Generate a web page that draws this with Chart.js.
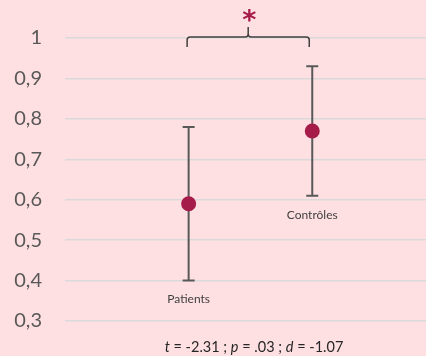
<!DOCTYPE html>
<html>
<head>
<meta charset="utf-8">
<script src="https://cdn.jsdelivr.net/npm/chart.js@4"></script>
<style>
  body { margin: 0; background: #ffe0e2; }
</style>
</head>
<body>
<canvas id="graph" width="426" height="356"></canvas>
<script>
// data
var groups = ['Patients', 'Contrôles']
var groupPos = [1, 2]
var means = [0.59, 0.77]
var lower = [0.40, 0.61]
var upper = [0.78, 0.93]
var yTicks = [0.3, 0.4, 0.5, 0.6, 0.7, 0.8, 0.9, 1]
var stats = [['t', true], [' = -2.31 ; ', false], ['p', true], [' = .03 ; ', false], ['d', true], [' = -1.07', false]]

var pink = '#ffe0e2'
var crimson = '#a51b4a'

var points = []
for (var i = 0; i < groups.length; i++) {
  points.push({ x: groupPos[i], y: means[i] })
}

var deco = {
  id: 'deco',
  beforeDraw: function (chart) {
    var c = chart.ctx
    c.save()
    c.fillStyle = pink
    c.fillRect(0, 0, chart.width, chart.height)
    c.restore()
  },
  beforeDatasetsDraw: function (chart) {
    var c = chart.ctx
    var xs = chart.scales.x, ys = chart.scales.y
    c.save()
    c.strokeStyle = '#595959'
    c.lineWidth = 2
    for (var i = 0; i < groups.length; i++) {
      var x = xs.getPixelForValue(groupPos[i])
      var yl = ys.getPixelForValue(lower[i])
      var yu = ys.getPixelForValue(upper[i])
      c.beginPath()
      c.moveTo(x, yl); c.lineTo(x, yu)
      c.moveTo(x - 6, yl); c.lineTo(x + 6, yl)
      c.moveTo(x - 6, yu); c.lineTo(x + 6, yu)
      c.stroke()
      // group label under the lower cap
      c.fillStyle = '#404040'
      c.font = '12px Lato'
      c.textAlign = 'center'
      c.textBaseline = 'middle'
      c.fillText(groups[i], x, yl + 19)
    }
    c.restore()
  },
  afterDraw: function (chart) {
    var c = chart.ctx
    var xs = chart.scales.x, ys = chart.scales.y
    var x1 = xs.getPixelForValue(groupPos[0]) - 1.5
    var x2 = xs.getPixelForValue(groupPos[1]) - 3
    var xm = (x1 + x2) / 2
    var yb = ys.getPixelForValue(1) - 1
    c.save()
    // bracket
    c.strokeStyle = '#404040'
    c.lineWidth = 1.5
    c.beginPath()
    c.moveTo(x1, yb + 10)
    c.lineTo(x1, yb + 3)
    c.quadraticCurveTo(x1, yb, x1 + 3, yb)
    c.lineTo(xm - 3, yb)
    c.quadraticCurveTo(xm, yb, xm, yb - 3)
    c.lineTo(xm, yb - 10)
    c.moveTo(xm, yb - 3)
    c.quadraticCurveTo(xm, yb, xm + 3, yb)
    c.lineTo(x2 - 3, yb)
    c.quadraticCurveTo(x2, yb, x2, yb + 3)
    c.lineTo(x2, yb + 10)
    c.stroke()
    // asterisk
    c.fillStyle = crimson
    c.font = 'bold 27px "DejaVu Sans"'
    c.textAlign = 'center'
    c.textBaseline = 'alphabetic'
    var m = c.measureText('*')
    var mid = (m.actualBoundingBoxAscent - m.actualBoundingBoxDescent) / 2
    c.fillText('*', xm + 1, 15 + mid)
    // stats line
    c.fillStyle = '#262626'
    c.textAlign = 'left'
    var total = 0
    for (var k = 0; k < stats.length; k++) {
      c.font = (stats[k][1] ? 'italic ' : '') + '14.5px Lato'
      total += c.measureText(stats[k][0]).width
    }
    var sx = 254 - total / 2
    for (var k = 0; k < stats.length; k++) {
      c.font = (stats[k][1] ? 'italic ' : '') + '14.5px Lato'
      c.fillText(stats[k][0], sx, 352)
      sx += c.measureText(stats[k][0]).width
    }
    c.restore()
  }
}

new Chart(document.getElementById('graph'), {
  type: 'scatter',
  data: {
    datasets: [{
      data: points,
      backgroundColor: crimson,
      borderWidth: 0,
      pointRadius: 7.5,
      pointHoverRadius: 7.5
    }]
  },
  options: {
    responsive: false,
    animation: false,
    layout: { autoPadding: false, padding: { top: 38, bottom: 33, left: 0, right: 0 } },
    plugins: { legend: { display: false }, tooltip: { enabled: false } },
    scales: {
      x: { type: 'linear', min: 0, max: 2.92, display: false },
      y: {
        min: 0.3,
        max: 1,
        afterBuildTicks: function (s) {
          s.ticks = yTicks.map(function (v) { return { value: v } })
        },
        afterFit: function (s) { s.width = 65 },
        ticks: {
          padding: 23,
          color: '#595959',
          font: { family: 'Lato', size: 20 },
          callback: function (v) { return String(Math.round(v * 10) / 10).replace('.', ',') }
        },
        grid: { color: '#d9d9d9', lineWidth: 1.5, drawTicks: false },
        border: { display: false }
      }
    }
  },
  plugins: [deco]
})
</script>
</body>
</html>
